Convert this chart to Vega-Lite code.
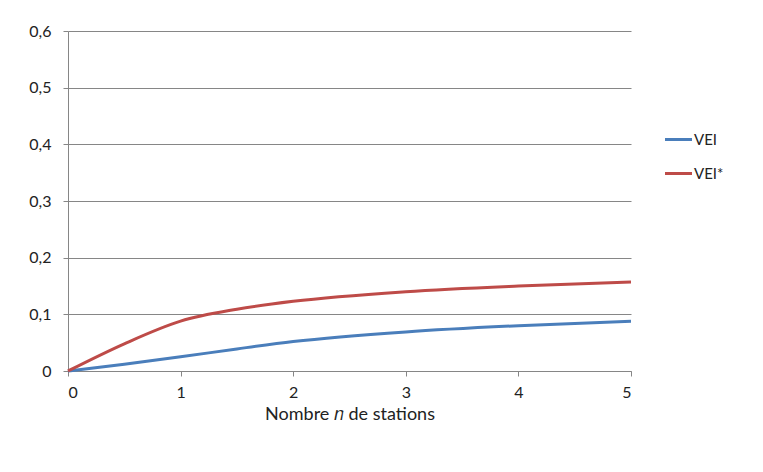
{
  "$schema": "https://vega.github.io/schema/vega-lite/v6.json",
  "autosize": {"type": "none"},
  "padding": {"left": 68, "top": 31, "right": 132, "bottom": 101},
  "width": 563,
  "height": 340,
  "background": "white",
  "config": {
    "view": {"stroke": null},
    "font": "Lato",
    "axis": {"labelFont": "Lato", "titleFont": "Lato", "labelColor": "#222222", "titleColor": "#222222"}
  },
  "data": {
    "values": [
      {"n": 0, "serie": "VEI", "v": 0},
      {"n": 0.5, "serie": "VEI", "v": 0.012},
      {"n": 1, "serie": "VEI", "v": 0.025},
      {"n": 1.5, "serie": "VEI", "v": 0.039},
      {"n": 2, "serie": "VEI", "v": 0.052},
      {"n": 3, "serie": "VEI", "v": 0.069},
      {"n": 4, "serie": "VEI", "v": 0.08},
      {"n": 5, "serie": "VEI", "v": 0.088},
      {"n": 0, "serie": "VEI*", "v": 0},
      {"n": 0.5, "serie": "VEI*", "v": 0.048},
      {"n": 1, "serie": "VEI*", "v": 0.088},
      {"n": 1.5, "serie": "VEI*", "v": 0.109},
      {"n": 2, "serie": "VEI*", "v": 0.123},
      {"n": 3, "serie": "VEI*", "v": 0.14},
      {"n": 4, "serie": "VEI*", "v": 0.15},
      {"n": 5, "serie": "VEI*", "v": 0.157}
    ]
  },
  "mark": {"type": "line", "interpolate": "monotone", "strokeWidth": 3},
  "encoding": {
    "x": {
      "field": "n", "type": "quantitative",
      "scale": {"domain": [0, 5], "nice": false},
      "axis": {
        "values": [0, 1, 2, 3, 4, 5], "grid": false,
        "domainColor": "#868686", "tickColor": "#868686", "tickSize": 5,
        "labelFontSize": 16, "labelPadding": 8,
        "title": "Nombre 𝑛 de stations", "titleFontSize": 18, "titleFontWeight": "normal", "titlePadding": 5
      }
    },
    "y": {
      "field": "v", "type": "quantitative",
      "scale": {"domain": [0, 0.6], "nice": false},
      "axis": {
        "values": [0, 0.1, 0.2, 0.3, 0.4, 0.5, 0.6],
        "labelExpr": "datum.value == 0 ? '0' : replace(format(datum.value, '.1f'), '.', ',')",
        "gridColor": "#868686", "domainColor": "#868686", "tickColor": "#868686", "tickSize": 5,
        "labelFontSize": 16, "labelPadding": 12, "title": null
      }
    },
    "color": {
      "field": "serie", "type": "nominal",
      "scale": {"domain": ["VEI", "VEI*"], "range": ["#4a7ebb", "#be4b48"]},
      "legend": {
        "title": null, "orient": "none", "legendX": 595, "legendY": 93,
        "symbolType": "stroke", "symbolSize": 730, "symbolStrokeWidth": 3,
        "labelFontSize": 15, "labelOffset": 0, "rowPadding": 10, "labelColor": "#222222"
      }
    }
  }
}
